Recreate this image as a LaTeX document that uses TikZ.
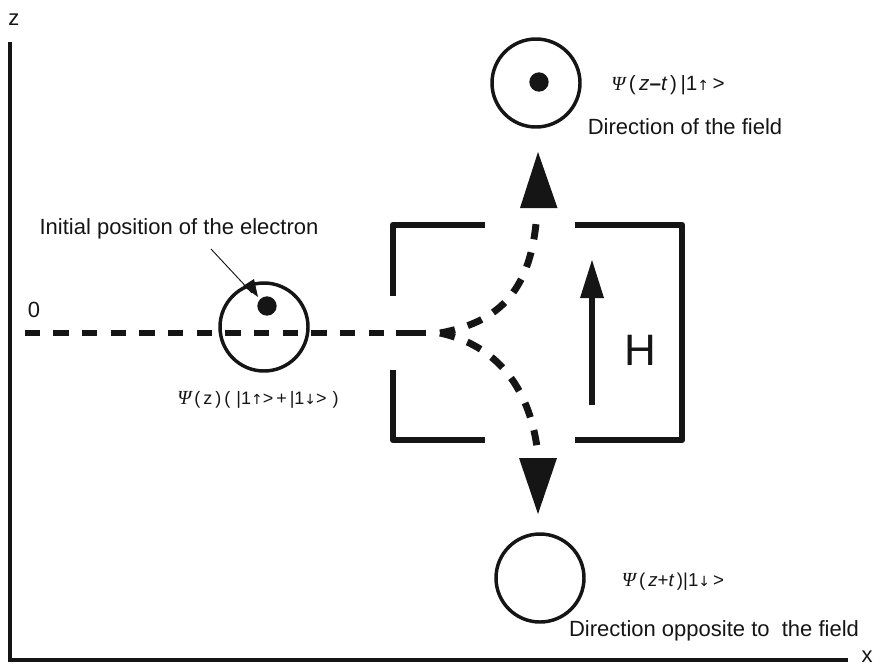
\documentclass[tikz,border=0pt]{standalone}
\usepackage{fontspec}
\setmainfont{Liberation Sans}
\newfontfamily\symf{DejaVu Sans}
\newfontfamily\serifit[ItalicFont=Liberation Serif Italic]{Liberation Serif}
\usetikzlibrary{arrows.meta}
\definecolor{ink}{HTML}{151515}
\tikzset{
  axisline/.style={draw=ink,line width=2.4pt},
  wall/.style={draw=ink,line width=5.2pt,line join=round},
  path dash/.style={draw=ink,line width=5.2pt,dash pattern=on 11.5pt off 10pt},
  ring/.style={circle,draw=ink,line width=2.6pt,minimum size=66pt,inner sep=0pt},
  spot/.style={circle,fill=ink,minimum size=14.5pt,inner sep=0pt},
  bigtip/.style={fill=ink},
  lab/.style={inner sep=0pt,text=ink,font=\fontsize{16.5pt}{19pt}\selectfont},
  psi/.style={inner sep=0pt,text=ink,font=\fontsize{13.5pt}{16pt}\selectfont},
}
\newcommand{\PsiSym}{{\serifit\itshape\fontsize{15pt}{16pt}\selectfont Ψ}}
\newcommand{\ita}[1]{{\itshape #1}}
\newcommand{\ua}{{\symf\fontsize{10.5pt}{12pt}\selectfont ↑}}
\newcommand{\da}{{\symf\fontsize{10.5pt}{12pt}\selectfont ↓}}
\begin{document}
\begin{tikzpicture}[x=0.75pt,y=-0.75pt]
\useasboundingbox (0,0) rectangle (880,668);
\coordinate (ztop) at (10,42);
\coordinate (origin) at (10,660);
\coordinate (xend) at (848,660);
\draw[axisline] (ztop) -- (origin) -- (xend);
\node[lab] (zl) at (14,20) {z};
\node[lab] (xl) at (867,657) {x};
\node[lab] (zero) at (34,310) {0};
% beam
\coordinate (beamS) at (24.5,333);
\coordinate (split) at (390,333);
\coordinate (stubS) at (396,333);
\coordinate (stubE) at (426,333);
\draw[path dash] (beamS) -- (split);
\draw[draw=ink,line width=5.2pt] (stubS) -- (stubE);
\coordinate (forkU) at (440,333);
\coordinate (endU) at (537,212);
\coordinate (endD) at (537,447);
\draw[path dash] (forkU) .. controls (500,322) and (532,290) .. (endU);
\draw[path dash] (forkU) .. controls (495,345) and (528,385) .. (endD);
% circles
\node[ring] (c0) at (264,327) {};
\node[spot] (d0) at (267,306) {};
\node[ring] (c1) at (536,83) {};
\node[spot] (d1) at (539,82) {};
\node[ring] (c2) at (540,578) {};
% box
\draw[wall] (485,225) -- (393,225) -- (393,296);
\draw[wall] (393,370) -- (393,440) -- (485,440);
\draw[wall] (575,225) -- (682,225) -- (682,440) -- (575,440);
% field arrow
\coordinate (hS) at (592,405);
\coordinate (hE) at (592,296);
\draw[draw=ink,line width=5pt] (hS) -- (hE);
\fill[bigtip] (592,260) -- (604,298) -- (580,298) -- cycle;
\node[inner sep=0pt,text=ink,font=\fontsize{33pt}{36pt}\selectfont] (H) at (640,350) {H};
% big tips
\fill[bigtip] (538,152) -- (557.5,208) -- (520,208) -- cycle;
\fill[bigtip] (538,514) -- (557,458) -- (519,458) -- cycle;
% labels
\node[lab] (init) at (179,229) {Initial position of the electron};
\coordinate (leaderS) at (211,249);
\draw[draw=ink,line width=0.7pt] (leaderS) -- (252,293);
\fill[ink] (258,297) -- (243,286) -- (254,279) -- cycle;
\node[lab] (f1) at (685,127) {Direction of the field};
\node[lab] (f2) at (714,631) {Direction opposite to\ \ the field};
\node[psi] (p0) at (258,400) {\PsiSym\,(\,z\,)\,(\,\,|1\ua>\,+\,|1\da>\,\,)};
\node[psi,font=\fontsize{15.5pt}{17pt}\selectfont] (p1) at (668,85) {\PsiSym\,(\,\ita{z}\textbf{--}\ita{t}\,)\,|1\ua\,>};
\node[psi,font=\fontsize{14pt}{16pt}\selectfont] (p2) at (673,582) {\PsiSym\,(\,\ita{z}+\ita{t}\,)|1\da\,>};
\end{tikzpicture}
\end{document}
